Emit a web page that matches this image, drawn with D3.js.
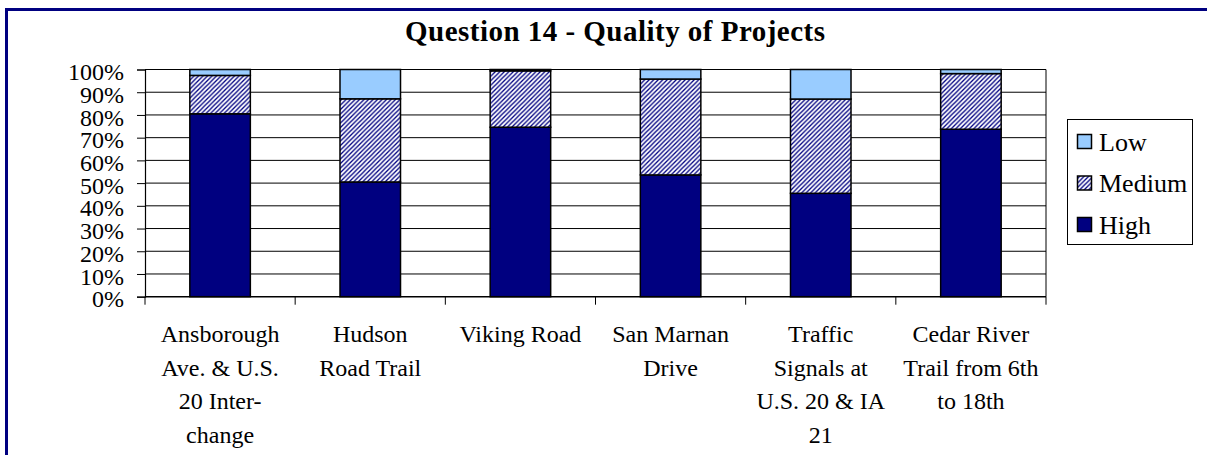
<!DOCTYPE html>
<html>
<head>
<meta charset="utf-8">
<script src="https://cdn.jsdelivr.net/npm/d3@7"></script>
<style>
  html, body { margin: 0; padding: 0; background: #fff; }
  svg { display: block; }
</style>
</head>
<body>
<svg id="chart" width="1207" height="455"></svg>
<script>
// ---- data ----
const categories = [
  "Ansborough Ave. & U.S. 20 Inter-change",
  "Hudson Road Trail",
  "Viking Road",
  "San Marnan Drive",
  "Traffic Signals at U.S. 20 & IA 21",
  "Cedar River Trail from 6th to 18th"
];
const categoryLines = [
  ["Ansborough", "Ave. & U.S.", "20 Inter-", "change"],
  ["Hudson", "Road Trail"],
  ["Viking Road"],
  ["San Marnan", "Drive"],
  ["Traffic", "Signals at", "U.S. 20 & IA", "21"],
  ["Cedar River", "Trail from 6th", "to 18th"]
];
const seriesNames = ["High", "Medium", "Low"];
const high   = [80.5, 50.5, 74.6, 53.6, 45.5, 73.7];
const medium = [16.9, 36.6, 24.8, 42.2, 41.5, 24.5];
const low    = [ 2.6, 12.9,  0.6,  4.2, 13.0,  1.8];
const yTicks = [0, 10, 20, 30, 40, 50, 60, 70, 80, 90, 100];
const titleText = "Question 14 - Quality of Projects";

const FONT = "'Liberation Serif', 'Times New Roman', serif";

// ---- layout ----
const svg = d3.select("#chart");
const plot = { left: 145, right: 1046, top: 69.5, bottom: 296.7 };

const rows = categories.map((c, i) => ({ cat: c, High: high[i], Medium: medium[i], Low: low[i] }));

const x = d3.scaleBand().domain(categories).range([plot.left, plot.right]).paddingInner(0).paddingOuter(0);
const barW = x.bandwidth() * 0.403;
const y = d3.scaleLinear().domain([0, 100]).range([plot.bottom, plot.top]);

const colors = { High: "#000080", Medium: "url(#hatch)", Low: "#99CCFF" };

// pattern
const defs = svg.append("defs");
const pat = defs.append("pattern")
  .attr("id", "hatch").attr("patternUnits", "userSpaceOnUse")
  .attr("width", 4.5).attr("height", 4.5);
pat.append("rect").attr("width", 4.5).attr("height", 4.5).attr("fill", "#fff");
pat.append("path")
  .attr("d", "M-1,1 L1,-1 M0,4.5 L4.5,0 M3.5,5.5 L5.5,3.5")
  .attr("stroke", "#000080").attr("stroke-width", 1.3);

// outer border
svg.append("rect").attr("x", 6.5).attr("y", 9.5).attr("width", 1215).attr("height", 470)
  .attr("fill", "#fff").attr("stroke", "#000080").attr("stroke-width", 3);

// title
svg.append("text")
  .attr("x", 615).attr("y", 41)
  .attr("text-anchor", "middle")
  .style("font-family", FONT)
  .attr("font-size", 29).attr("font-weight", "bold")
  .attr("textLength", 420).attr("lengthAdjust", "spacing")
  .text(titleText);

// gridlines
svg.append("g").selectAll("line").data(yTicks.slice(1)).join("line")
  .attr("x1", plot.left).attr("x2", plot.right)
  .attr("y1", d => y(d)).attr("y2", d => y(d))
  .attr("stroke", "#000").attr("stroke-width", 1);

// plot area right border
svg.append("line").attr("x1", plot.right).attr("x2", plot.right)
  .attr("y1", plot.top).attr("y2", plot.bottom)
  .attr("stroke", "#000").attr("stroke-width", 1);

// y axis
const yAxis = d3.axisLeft(y).tickValues(yTicks).tickSize(8).tickFormat(d => d + "%");
const gy = svg.append("g").attr("transform", `translate(${plot.left},0)`).call(yAxis);
gy.select(".domain").attr("stroke", "#000").attr("stroke-width", 1.2);
gy.selectAll(".tick line").attr("stroke", "#000");
gy.selectAll(".tick text")
  .style("font-family", FONT)
  .attr("font-size", 24).attr("fill", "#000")
  .attr("x", -21).attr("dy", "0.42em");

// bars
const stack = d3.stack().keys(seriesNames);
const stacked = stack(rows);
svg.append("g").selectAll("g").data(stacked).join("g")
  .attr("fill", d => colors[d.key])
  .selectAll("rect").data(d => d).join("rect")
  .attr("x", d => x(d.data.cat) + (x.bandwidth() - barW) / 2)
  .attr("width", barW)
  .attr("y", d => y(d[1]))
  .attr("height", d => y(d[0]) - y(d[1]))
  .attr("stroke", "#000").attr("stroke-width", 1.5);

// x axis
const xAxisG = svg.append("g").attr("transform", `translate(0,${plot.bottom})`);
xAxisG.append("line").attr("x1", plot.left).attr("x2", plot.right)
  .attr("stroke", "#000").attr("stroke-width", 1.5);
const boundaries = categories.map(c => x(c)).concat([plot.right]);
xAxisG.selectAll("line.tk").data(boundaries).join("line").attr("class", "tk")
  .attr("x1", d => d).attr("x2", d => d).attr("y1", 0).attr("y2", 8)
  .attr("stroke", "#000").attr("stroke-width", 1);

// category labels
const lab = svg.append("g").selectAll("text").data(categories).join("text")
  .attr("text-anchor", "middle")
  .style("font-family", FONT)
  .attr("font-size", 24)
  .attr("x", d => x(d) + x.bandwidth() / 2)
  .attr("y", 342);
lab.each(function(d, i) {
  const t = d3.select(this);
  categoryLines[i].forEach((ln, j) => {
    t.append("tspan").attr("x", x(d) + x.bandwidth() / 2).attr("y", 342 + j * 33.5).text(ln);
  });
});

// legend
const legend = svg.append("g");
legend.append("rect").attr("x", 1067.5).attr("y", 119.5).attr("width", 125).attr("height", 125)
  .attr("fill", "#fff").attr("stroke", "#000").attr("stroke-width", 1);
const legendOrder = ["Low", "Medium", "High"];
const legendY = d3.scalePoint().domain(legendOrder).range([142, 225]);
const li = legend.selectAll("g.li").data(legendOrder).join("g").attr("class", "li")
  .attr("transform", d => `translate(1077,${legendY(d)})`);
li.append("rect").attr("x", 0.5).attr("y", -7.5).attr("width", 14).attr("height", 14)
  .attr("fill", d => colors[d]).attr("stroke", "#000").attr("stroke-width", 1.5);
li.append("text").attr("x", 22).attr("y", 8.5)
  .style("font-family", FONT)
  .attr("font-size", 26).text(d => d);
</script>
</body>
</html>
